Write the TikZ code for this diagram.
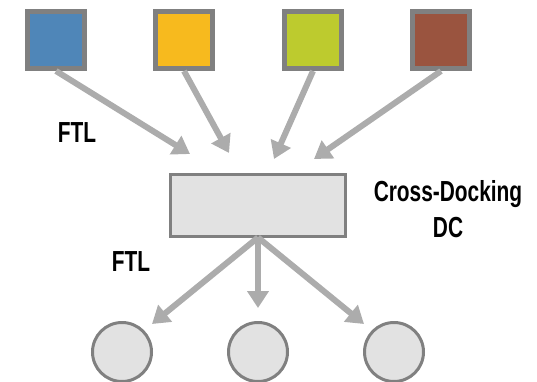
\documentclass[tikz,border=0pt]{standalone}
\usepackage{fontspec}
\setmainfont{Liberation Sans}[FakeStretch=0.72]
\usetikzlibrary{arrows.meta}
\definecolor{edgegray}{RGB}{128,128,128}
\definecolor{arrowgray}{RGB}{172,172,172}
\definecolor{boxfill}{RGB}{226,226,226}
\definecolor{cblue}{RGB}{79,134,184}
\definecolor{cyellow}{RGB}{247,186,30}
\definecolor{cgreen}{RGB}{189,203,46}
\definecolor{cbrown}{RGB}{154,84,63}
\begin{document}
\begin{tikzpicture}[x=1pt,y=-1pt,
  supplier/.style={draw=edgegray,line width=5pt,minimum size=57pt,inner sep=0pt},
  dcbox/.style={draw=edgegray,fill=boxfill,line width=3pt,minimum width=175pt,minimum height=62pt,inner sep=0pt},
  store/.style={circle,draw=edgegray,fill=boxfill,line width=3pt,minimum size=59pt,inner sep=0pt},
  flow/.style={draw=arrowgray,line width=6pt,-{Triangle[width=21pt,length=17pt]}},
  lbl/.style={font=\bfseries\fontsize{29}{36}\selectfont,inner sep=0pt,align=center}]
\useasboundingbox (0,0) rectangle (537,382);
% suppliers
\node[supplier,fill=cblue]   (s1) at (56,40)  {};
\node[supplier,fill=cyellow] (s2) at (184,40) {};
\node[supplier,fill=cgreen]  (s3) at (313,40) {};
\node[supplier,fill=cbrown]  (s4) at (441,40) {};
% cross-docking DC
\node[dcbox] (dc) at (258,205) {};
% stores
\node[store] (c1) at (122,352) {};
\node[store] (c2) at (258,352) {};
\node[store] (c3) at (394,352) {};
% arrow end points
\coordinate (t1) at (190,154);
\coordinate (t2) at (229,153);
\coordinate (t3) at (274,159);
\coordinate (t4) at (314,159);
\coordinate (b1) at (152,324);
\coordinate (b2) at (258,308);
\coordinate (b3) at (364,324);
% inbound flows
\draw[flow] (s1.south) -- (t1);
\draw[flow] (s2.south) -- (t2);
\draw[flow] (s3.south) -- (t3);
\draw[flow] (s4.south) -- (t4);
% outbound flows
\draw[flow] (dc.south) -- (b1);
\draw[flow] (dc.south) -- (b2);
\draw[flow] (dc.south) -- (b3);
% labels
\node[lbl] (ftl1) at (77,133) {FTL};
\node[lbl] (ftl2) at (131,262) {FTL};
\node[lbl] (dclabel) at (448,209) {Cross-Docking\\DC};
\end{tikzpicture}
\end{document}
